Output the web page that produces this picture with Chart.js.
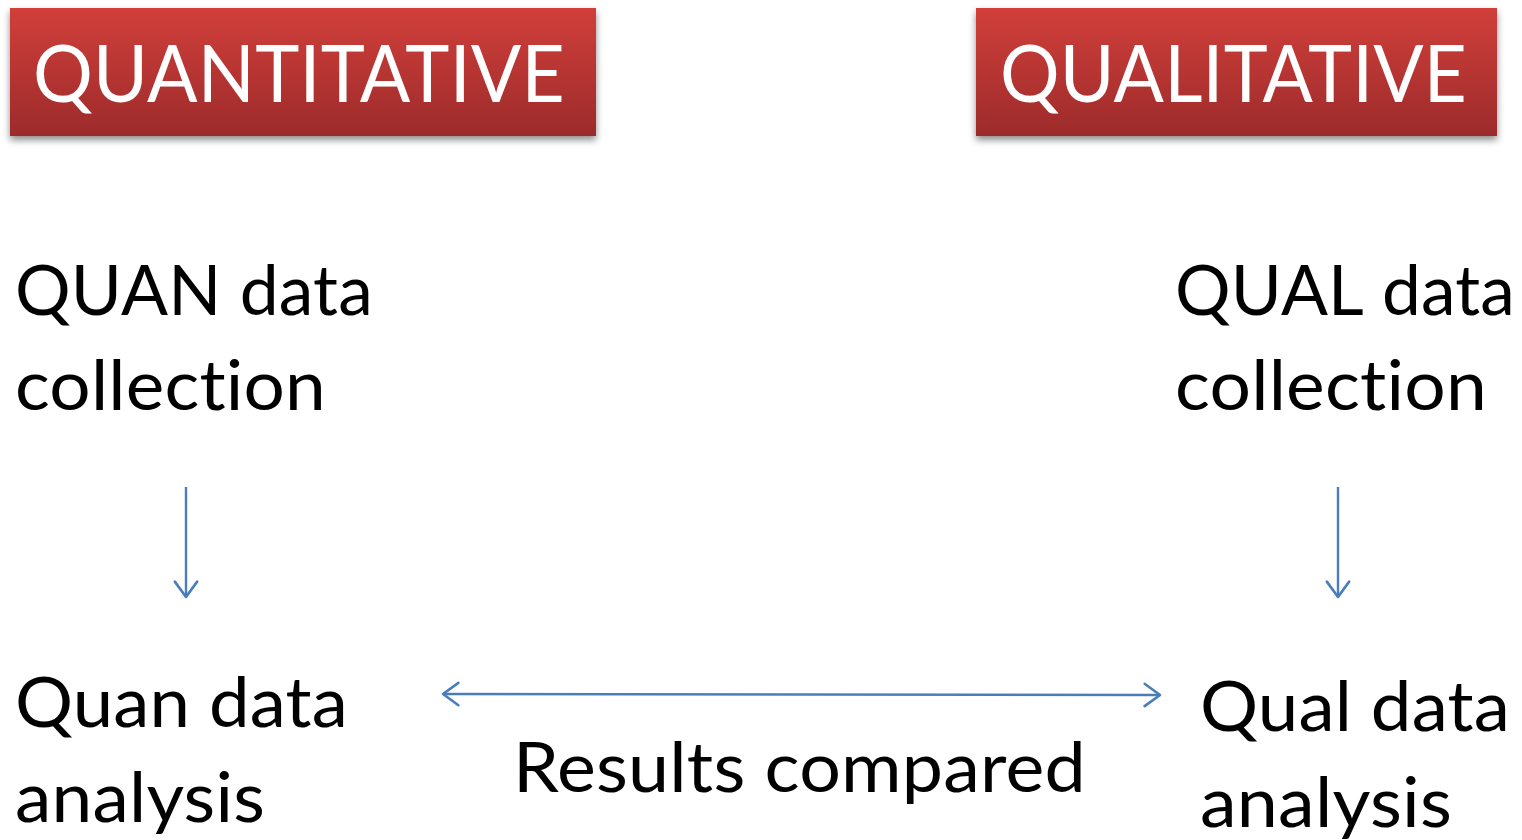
<!DOCTYPE html>
<html>
<head>
<meta charset="utf-8">
<script src="https://cdn.jsdelivr.net/npm/chart.js@4"></script>
<style>
  html, body { margin: 0; padding: 0; background: #ffffff; overflow: hidden; }
  canvas { display: block; }
</style>
</head>
<body>
<canvas id="diagram" width="1522" height="840"></canvas>
<script>
/* ── Diagram content ────────────────────────────────────────── */
const headerLabels = ["QUANTITATIVE", "QUALITATIVE"];
const collectLabels = [["QUAN data", "collection"], ["QUAL data", "collection"]];
const analysisLabels = [["Quan data", "analysis"], ["Qual data", "analysis"]];
const compareLabel = "Results compared";

/* Arrows, in page units (x to the right, y downward) */
const flowLeftX  = [186, 186];
const flowRightX = [1338, 1338];
const flowY      = [487, 597];
const compareX   = [443, 1160];
const compareY   = [694, 695];

/* ── Layout (page units) ────────────────────────────────────── */
const headerBoxes = [
  { x: 10, y: 8, w: 586, h: 128, textX: 33, textW: 532 },
  { x: 976, y: 8, w: 521, h: 128, textX: 1000, textW: 467 },
];
const HEADER_BASE = 102;
const collectPos  = [{ x: 15, base: [315, 410], w: [358, 311] }, { x: 1175, base: [315, 410], w: [340, 312] }];
const analysisPos = [{ x: 15, base: [727, 822], w: [333, 250] }, { x: 1200, base: [731, 827], w: [310, 252] }];
const comparePos  = { x: 513, base: 792, w: 573 };

const FONT = "Lato, 'Open Sans', sans-serif";
const ARROW_BLUE = "#4a7ebb";

/* Draw text stretched/squeezed to a target width */
function fitText(ctx, text, x, y, width, size, color) {
  ctx.save();
  ctx.font = size + "px " + FONT;
  ctx.letterSpacing = "0.2px"; /* stops the "ti" ligature */
  ctx.fillStyle = color;
  ctx.textBaseline = "alphabetic";
  const measured = ctx.measureText(text).width;
  ctx.translate(x, y);
  ctx.scale(width / measured, 1);
  ctx.fillText(text, 0, 0);
  ctx.restore();
}

/* Open chevron arrow head at (px,py) pointing along angle */
function arrowHead(ctx, px, py, angle) {
  const len = 19, spread = Math.PI / 5;
  ctx.beginPath();
  ctx.moveTo(px - len * Math.cos(angle - spread), py - len * Math.sin(angle - spread));
  ctx.lineTo(px, py);
  ctx.lineTo(px - len * Math.cos(angle + spread), py - len * Math.sin(angle + spread));
  ctx.stroke();
}

/* ── Plugin: header boxes, labels, arrow heads ──────────────── */
const diagramPlugin = {
  id: "diagram",
  beforeDatasetsDraw(chart) {
    const { ctx, scales: { x, y } } = chart;
    headerBoxes.forEach((b, i) => {
      const left = x.getPixelForValue(b.x), top = y.getPixelForValue(b.y);
      const w = x.getPixelForValue(b.x + b.w) - left;
      const h = y.getPixelForValue(b.y + b.h) - top;
      ctx.save();
      const grad = ctx.createLinearGradient(0, top, 0, top + h);
      grad.addColorStop(0, "#d13f3a");
      grad.addColorStop(1, "#9c2b2b");
      ctx.shadowColor = "rgba(0,0,0,0.45)";
      ctx.shadowBlur = 7;
      ctx.shadowOffsetY = 4;
      ctx.fillStyle = grad;
      ctx.fillRect(left, top, w, h);
      ctx.restore();
      fitText(ctx, headerLabels[i], x.getPixelForValue(b.textX), y.getPixelForValue(HEADER_BASE), b.textW, 80, "#ffffff");
    });
  },
  afterDatasetsDraw(chart) {
    const { ctx, scales: { x, y } } = chart;
    [[collectLabels, collectPos], [analysisLabels, analysisPos]].forEach(([labels, pos]) => {
      labels.forEach((lines, i) => {
        lines.forEach((line, j) => {
          fitText(ctx, line, x.getPixelForValue(pos[i].x), y.getPixelForValue(pos[i].base[j]), pos[i].w[j], 70, "#000000");
        });
      });
    });
    fitText(ctx, compareLabel, x.getPixelForValue(comparePos.x), y.getPixelForValue(comparePos.base), comparePos.w, 70, "#000000");

    /* arrow heads follow the line datasets */
    ctx.save();
    ctx.strokeStyle = ARROW_BLUE;
    ctx.lineWidth = 2.6;
    ctx.lineCap = "round";
    ctx.lineJoin = "round";
    chart.data.datasets.forEach((ds) => {
      const pts = ds.data.map((p) => [x.getPixelForValue(p.x), y.getPixelForValue(p.y)]);
      const [a, b] = [pts[0], pts[pts.length - 1]];
      const ang = Math.atan2(b[1] - a[1], b[0] - a[0]);
      arrowHead(ctx, b[0], b[1], ang);
      if (ds.both) arrowHead(ctx, a[0], a[1], ang + Math.PI);
    });
    ctx.restore();
  },
};

function linePoints(xs, ys) {
  return xs.map((v, i) => ({ x: v, y: ys[i] }));
}

const lineStyle = {
  showLine: true,
  borderColor: ARROW_BLUE,
  borderWidth: 2.4,
  pointRadius: 0,
  fill: false,
};

new Chart(document.getElementById("diagram"), {
  type: "scatter",
  data: {
    datasets: [
      { ...lineStyle, data: linePoints(flowLeftX, flowY) },
      { ...lineStyle, data: linePoints(flowRightX, flowY) },
      { ...lineStyle, data: linePoints(compareX, compareY), both: true },
    ],
  },
  options: {
    responsive: false,
    animation: false,
    layout: { padding: 0 },
    plugins: { legend: { display: false }, tooltip: { enabled: false } },
    scales: {
      x: { type: "linear", min: 0, max: 1522, display: false },
      y: { type: "linear", min: 0, max: 840, reverse: true, display: false },
    },
  },
  plugins: [diagramPlugin],
});
</script>
</body>
</html>
